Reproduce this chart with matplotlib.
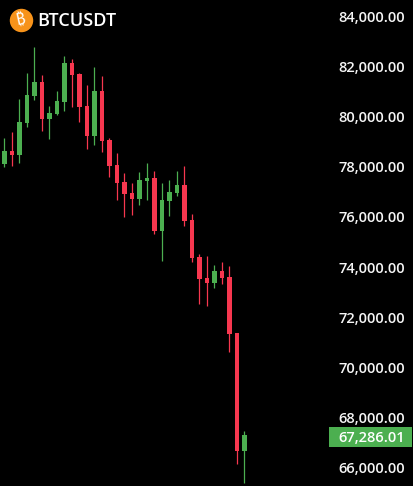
import matplotlib
matplotlib.use("Agg")
import matplotlib.pyplot as plt
from matplotlib.patches import Rectangle
from matplotlib.transforms import blended_transform_factory

# candles
opens = [78126, 78633, 78473, 79750, 80828, 81386, 79910, 80109, 80588, 82144,
         81705, 80429, 79232, 81027, 79072, 78074, 77396, 76957, 76718, 77436,
         77556, 75441, 76638, 76957, 77276, 75880, 74404, 73566, 73366, 73845,
         73606, 71371, 66663]
highs = [79152, 79391, 80708, 81745, 82783, 81665, 80429, 81027, 82424, 82304,
         81745, 81266, 81985, 81626, 79152, 78553, 77755, 77356, 77795, 78154,
         77835, 77356, 77476, 77835, 78035, 76119, 74523, 74444, 74084, 74204,
         74045, 71371, 67461]
lows = [78007, 78047, 78166, 79591, 80668, 79431, 79112, 80069, 80229, 80389,
        79790, 78713, 78872, 78593, 77596, 76678, 76000, 76079, 76478, 76678,
        75321, 74244, 76040, 76838, 75641, 74204, 72528, 72449, 73167, 73326,
        70613, 66144, 65386]
closes = [78633, 78473, 79790, 80867, 81386, 79910, 80149, 80628, 82144, 81665,
          80389, 79232, 81027, 79032, 78035, 77356, 76917, 76718, 77476, 77556,
          75441, 76678, 76997, 77276, 75840, 74364, 73526, 73366, 73845, 73566,
          71331, 66663, 67286]

price_ticks = [66000, 68000, 70000, 72000, 74000, 76000, 78000, 80000, 82000, 84000]
symbol = "BTCUSDT"
last_price = 67286.01

green = "#4caf50"
red = "#f7374f"

plt.rcParams["font.family"] = ["Open Sans", "DejaVu Sans"]

fig = plt.figure(figsize=(4.13, 4.86), dpi=100, facecolor="black")
ax = fig.add_axes([0, 0, 1, 1], facecolor="black")

for i in range(len(opens)):
    col = green if closes[i] >= opens[i] else red
    ax.vlines(i, lows[i], highs[i], color=col, linewidth=0.9, zorder=2)
    ax.bar(i, abs(closes[i] - opens[i]), bottom=min(opens[i], closes[i]),
           width=0.66, color=col, linewidth=0, zorder=3)

ax.set_xlim(-0.6, 54.47)
ax.set_ylim(65267, 84658)

# price axis sits inside the plot
ax.set_xticks([])
ax.yaxis.tick_right()
ax.set_yticks(price_ticks)
ax.set_yticklabels([f"{p:,.2f}" for p in price_ticks])
ax.tick_params(axis="y", length=0, pad=-5.8, labelsize=10.5, labelcolor="#f5f5f5")
for lab in ax.get_yticklabels():
    lab.set_ha("right")
    lab.set_fontweight("semibold")
for s in ax.spines.values():
    s.set_visible(False)

# last price tag
trans = blended_transform_factory(ax.transAxes, ax.transData)
ax.add_patch(Rectangle((329 / 413, last_price - 480), 83 / 413, 800, transform=trans,
                       facecolor=green, edgecolor="none", zorder=4))
ax.text(405 / 413, last_price - 100, f"{last_price:,.2f}", transform=trans, ha="right", va="center",
        color="white", fontsize=10.5, fontweight="semibold", zorder=5)

# header
ax.scatter([20.5 / 413], [1 - 20.5 / 486], s=285, color="#f7931a", linewidth=0,
           transform=ax.transAxes, zorder=5)
ax.text(20.5 / 413, 1 - 20.5 / 486, "₿", transform=ax.transAxes, ha="center", va="center",
        color="white", fontsize=11.5, fontweight="bold", rotation=12, zorder=6,
        family=["Noto Sans", "Roboto", "Inter", "Lato", "Liberation Sans", "DejaVu Sans"])
ax.text(37 / 413, 1 - 21 / 486, symbol, transform=ax.transAxes, ha="left", va="center",
        color="white", fontsize=13, fontweight="semibold", zorder=6)

fig.savefig("out.png", dpi=100, facecolor="black")
